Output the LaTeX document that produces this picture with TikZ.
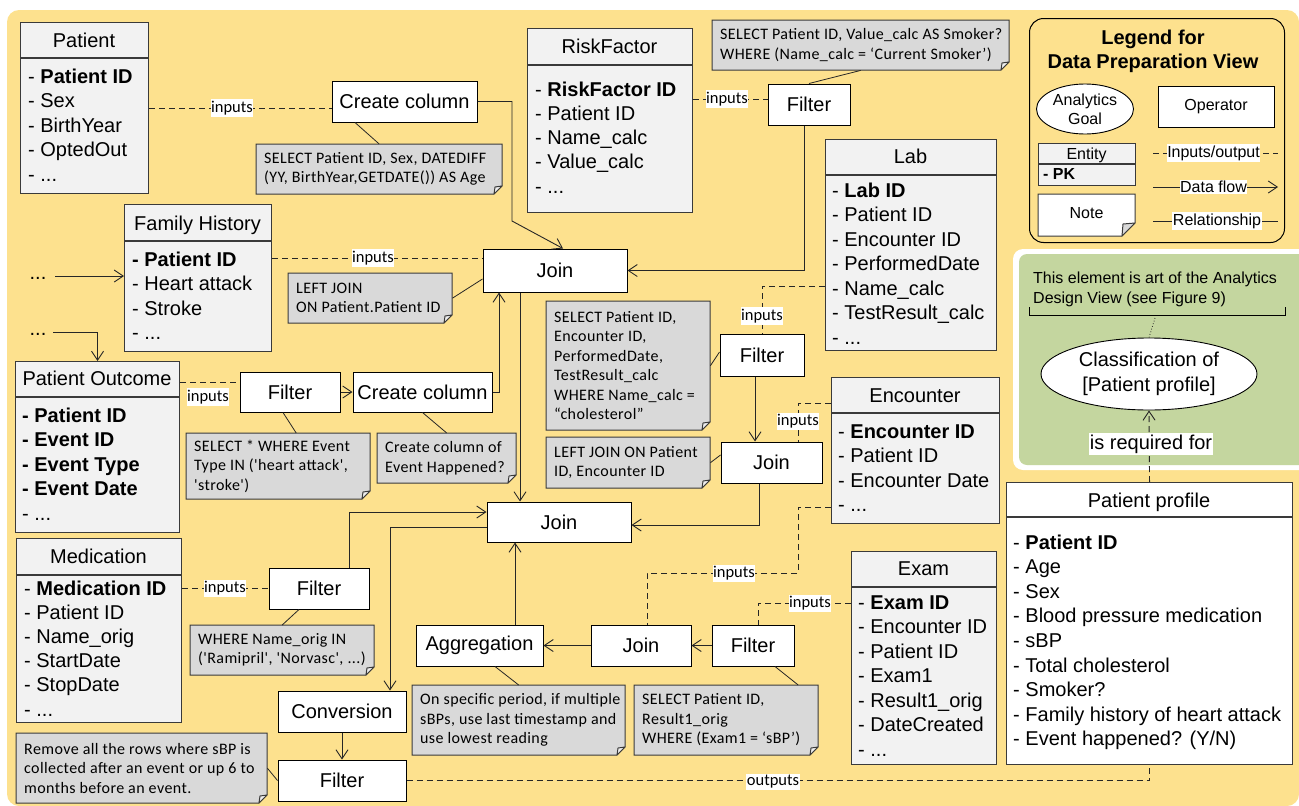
\documentclass[tikz,border=0pt]{standalone}
\usepackage{fontspec}
\setmainfont{Liberation Sans}
\newfontfamily\notefont[LetterSpace=2.5]{Carlito}
\newfontfamily\lblfont{Carlito}
\usetikzlibrary{arrows.meta,shapes.geometric}

\definecolor{ybg}{HTML}{FDE18E}
\definecolor{gbg}{HTML}{C4D69F}
\definecolor{entfill}{HTML}{F2F2F2}
\definecolor{notefill}{HTML}{D9D9D9}
\definecolor{foldfill}{HTML}{EFEFEF}
\definecolor{lnc}{HTML}{262626}
\definecolor{entc}{HTML}{3A3A3A}

\newcommand{\dts}{...}

\tikzset{
  ent/.style={draw=entc, fill=entfill, line width=1.1pt, inner sep=0pt},
  entbd/.style={draw=entc, line width=1.1pt},
  enttitle/.style={font=\fontsize{20}{24}\selectfont, inner sep=0pt},
  entitem/.style={font=\fontsize{20}{24}\selectfont, inner sep=0pt},
  op/.style={draw=black, fill=white, line width=1pt, inner sep=0pt, font=\fontsize{20}{24}\selectfont},
  notebd/.style={draw=entc, line width=1pt},
  notearea/.style={draw=none, fill=none, inner sep=0pt},
  notetext/.style={inner sep=0pt, align=left, font=\notefont\fontsize{16}{19.5}\selectfont},
  lbl/.style={fill=white, inner xsep=0.5pt, inner ysep=1.5pt, font=\lblfont\fontsize{16.5}{18}\selectfont},
  lglbl/.style={fill=white, inner xsep=0.5pt, inner ysep=1.5pt, font=\fontsize{16}{18}\selectfont},
  biglbl/.style={fill=white, inner xsep=1pt, inner ysep=2pt, font=\fontsize{20}{22}\selectfont},
  flow/.style={draw=lnc, line width=0.9pt, -{Straight Barb[length=9pt,width=12pt]}},
  dsh/.style={draw=lnc, line width=0.9pt, dash pattern=on 6pt off 4pt},
  rel/.style={draw=lnc, line width=0.8pt},
}

% entity box: [opts] name x1 y1 x2 y2 ydivider
\newcommand{\entbox}[7][]{%
  \node[ent, #1, minimum width={#5-#3}, minimum height={#6-#4}, anchor=north west] (#2) at (#3,#4) {};
  \draw[entbd] (#3,#7) -- (#5,#7);
}
% entity items: name x y0 dy list
\newcommand{\entitems}[5]{%
  \foreach \itm [count=\i] in {#5} {%
    \node[entitem, anchor=base west] (#1-\i) at (#2,{#3+(\i-1)*#4}) {\itm};
  }%
}
% note: name x1 y1 x2 y2 text
\newcommand{\notebox}[6]{%
  \filldraw[notebd, fill=notefill] (#2,#3) -- (#4,#3) -- (#4,#5-8) -- (#4-8,#5) -- (#2,#5) -- cycle;
  \filldraw[notebd, fill=foldfill, line join=round] (#4,#5-8) -- (#4-8,#5) -- (#4-7,#5-7) -- cycle;
  \node[notearea, minimum width={#4-#2}, minimum height={#5-#3}, anchor=north west] (#1) at (#2,#3) {};
  \node[notetext, anchor=west] (#1-t) at ({#2+8},{(#3+#5)/2}) {#6};
}

\begin{document}
\begin{tikzpicture}[x=1pt,y=-1pt]
\useasboundingbox (0,0) rectangle (1299,806);
% backgrounds
\fill[ybg, rounded corners=12pt] (7,10) rectangle (1299,806);
\fill[white, rounded corners=10pt] (1013,249) rectangle (1320,470);
\fill[gbg, rounded corners=8pt] (1019,254) rectangle (1320,465);

% ---------------- legend
\node[draw=black, line width=1pt, rounded corners=14pt, minimum width=255, minimum height=224, anchor=north west, inner sep=0pt] (legend) at (1029,18) {};
\node[font=\bfseries\fontsize{20}{24}\selectfont, align=center, inner sep=0pt] (lgtitle) at (1153,51) {Legend for\\Data Preparation View};
\node[draw=black, fill=white, line width=0.9pt, ellipse, minimum width=97, minimum height=50, inner sep=0pt, align=center, font=\fontsize{16}{19}\selectfont] (lggoal) at (1085,109) {Analytics\\Goal};
\node[op, minimum width=116, minimum height=41, font=\fontsize{16}{19}\selectfont] (lgop) at (1216,106.5) {Operator};
\entbox{lgent}{1038}{143}{1135}{185}{164}
\node[inner sep=0pt, anchor=base, font=\fontsize{16}{19}\selectfont] (lgent-title) at (1086.5,159.5) {Entity};
\node[inner sep=0pt, anchor=base west, font=\bfseries\fontsize{16}{19}\selectfont] (lgent-1) at (1043,179) {- PK};
\filldraw[notebd, fill=white] (1038,194) -- (1135,194) -- (1135,223) -- (1122,236) -- (1038,236) -- cycle;
\filldraw[notebd, fill=notefill, line join=round] (1135,223) -- (1122,236) -- (1123,224) -- cycle;
\node[inner sep=0pt, font=\fontsize{16}{19}\selectfont] (lgnote) at (1086.5,213) {Note};
\coordinate (lgioa) at (1153,153); \coordinate (lgiob) at (1278,153);
\draw[dsh] (lgioa) -- (lgiob);
\node[lglbl] (lgiol) at (1213.5,153) {Inputs/output};
\coordinate (lgdfa) at (1153,187); \coordinate (lgdfb) at (1278,187);
\draw[flow] (lgdfa) -- (lgdfb);
\node[lglbl] (lgdfl) at (1213.5,187) {Data flow};
\coordinate (lgrla) at (1153,221); \coordinate (lgrlb) at (1278,221);
\draw[rel] (lgrla) -- (lgrlb);
\node[lglbl] (lgrll) at (1217,221) {Relationship};

% ---------------- green region
\node[font=\fontsize{16}{20}\selectfont, anchor=base west, inner sep=0pt] (g1) at (1033,283) {This element is art of the Analytics};
\node[font=\fontsize{16}{20}\selectfont, anchor=base west, inner sep=0pt] (g2) at (1033,303) {Design View (see Figure 9)};
\draw[line width=1pt] (1029,307) -- (1029,315) -- (1285,315) -- (1285,307);
\coordinate (brk) at (1155,318);
\node[draw=black, fill=white, line width=0.9pt, ellipse, minimum width=216, minimum height=72, inner sep=0pt, align=center, font=\fontsize{20}{25}\selectfont] (cls) at (1149,374) {Classification of\\{[}Patient profile{]}};
\draw[lnc, dotted, line width=0.8pt] (brk) -- (cls.north);

% ---------------- entities
\entbox{pat}{20}{22}{148}{193}{58}
\node[enttitle, anchor=base] (pat-title) at (84,47) {Patient};
\entitems{pat}{28}{83}{24.5}{- \textbf{Patient ID}, - Sex, - BirthYear, - OptedOut, - \dts}

\entbox{rf}{527}{28}{692}{212}{65}
\node[enttitle, anchor=base] (rf-title) at (609.5,53) {RiskFactor};
\entitems{rf}{535}{96}{24.3}{- \textbf{RiskFactor ID}, - Patient ID, - Name\_calc, - Value\_calc, - \dts}

\entbox{lab}{825}{139}{996}{350}{175}
\node[enttitle, anchor=base] (lab-title) at (910.5,163) {Lab};
\entitems{lab}{832}{197}{24.5}{- \textbf{Lab ID}, - Patient ID, - Encounter ID, - PerformedDate, - Name\_calc, - TestResult\_calc, - \dts}

\entbox{fh}{124}{204}{271}{351}{241}
\node[enttitle, anchor=base] (fh-title) at (197.5,230) {Family History};
\entitems{fh}{132}{266}{24.5}{\textbf{- Patient ID}, - Heart attack, - Stroke, - \dts}

\entbox{po}{15}{361}{179}{532}{397}
\node[enttitle, anchor=base] (po-title) at (97,385) {Patient Outcome};
\entitems{po}{22}{422}{24.5}{\textbf{- Patient ID}, \textbf{- Event ID}, \textbf{- Event Type}, \textbf{- Event Date}, - \dts}

\entbox{enc}{831}{377}{999}{523}{413}
\node[enttitle, anchor=base] (enc-title) at (915,402) {Encounter};
\entitems{enc}{838}{438}{24.6}{- \textbf{Encounter ID}, - Patient ID, - Encounter Date, - \dts}

\entbox{med}{16}{538}{181}{722}{575}
\node[enttitle, anchor=base] (med-title) at (98.5,563) {Medication};
\entitems{med}{24}{595}{24.2}{- \textbf{Medication ID}, - Patient ID, - Name\_orig, - StartDate, - StopDate, - \dts}

\entbox{exam}{851}{551}{996}{764}{587}
\node[enttitle, anchor=base] (exam-title) at (923.5,575) {Exam};
\entitems{exam}{858}{609}{24.5}{- \textbf{Exam ID}, - Encounter ID, - Patient ID, - Exam1, - Result1\_orig, - DateCreated, - \dts}

\entbox[fill=white]{pp}{1006}{482}{1292}{764}{517}
\node[enttitle, anchor=base] (pp-title) at (1149,507) {Patient profile};
\entitems{pp}{1013}{549}{24.6}{- \textbf{Patient ID}, - Age, - Sex, - Blood pressure medication, - sBP, - Total cholesterol, - Smoker?, - Family history of heart attack, - Event happened? (Y/N)}

% ---------------- operators
\node[op, minimum width=145, minimum height=41] (cc1) at (404.5,101.5) {Create column};
\node[op, minimum width=82, minimum height=41] (frf) at (809,104.5) {Filter};
\node[op, minimum width=144, minimum height=43] (join1) at (555,270.5) {Join};
\node[op, minimum width=100, minimum height=40] (fpo) at (290,392) {Filter};
\node[op, minimum width=139, minimum height=40] (cc2) at (422.5,392) {Create column};
\node[op, minimum width=84, minimum height=42] (flab) at (762,355) {Filter};
\node[op, minimum width=101, minimum height=41] (jenc) at (771.5,462.5) {Join};
\node[op, minimum width=144, minimum height=40] (join2) at (559,522) {Join};
\node[op, minimum width=100, minimum height=41] (fmed) at (319,588.5) {Filter};
\node[op, minimum width=127, minimum height=41] (agg) at (479.5,645.5) {Aggregation};
\node[op, minimum width=100, minimum height=41] (jex) at (641,645.5) {Join};
\node[op, minimum width=82, minimum height=41] (fex) at (753,645.5) {Filter};
\node[op, minimum width=128, minimum height=41] (conv) at (342,711.5) {Conversion};
\node[op, minimum width=128, minimum height=41] (fbot) at (342,780.5) {Filter};

% ---------------- notes
\notebox{n1}{256}{144}{502}{194}{SELECT Patient ID, Sex, DATEDIFF\\(YY, BirthYear,GETDATE()) AS Age}
\notebox{nrf}{712}{20}{1009}{70}{SELECT Patient ID, Value\_calc AS Smoker?\\WHERE (Name\_calc = ‘Current Smoker’)}
\notebox{nlj}{288}{273}{452}{323}{LEFT JOIN\\ON Patient.Patient ID}
\notebox{nsel}{186}{433}{370}{499}{SELECT * WHERE Event\\Type IN ('heart attack',\\'stroke')}
\notebox{ncc2}{377}{433}{516}{483}{Create column of\\Event Happened?}
\notebox{nlab}{546}{301}{710}{430}{SELECT Patient ID,\\Encounter ID,\\PerformedDate,\\TestResult\_calc\\WHERE Name\_calc =\\“cholesterol”}
\notebox{nlje}{546}{437}{710}{488}{LEFT JOIN ON Patient\\ID, Encounter ID}
\notebox{nmed}{190}{625}{374}{675}{WHERE Name\_orig IN\\('Ramipril', 'Norvasc', ...)}
\notebox{nagg}{412}{685}{625}{755}{On specific period, if multiple\\sBPs, use last timestamp and\\use lowest reading}
\notebox{nex}{634}{685}{818}{755}{SELECT Patient ID,\\Result1\_orig\\WHERE (Exam1 = ‘sBP’)}
\notebox{nrem}{16}{733}{267}{803}{Remove all the rows where sBP is\\collected after an event or up 6 to\\months before an event.}

% ---------------- free ends
\node[entitem, anchor=base] (dots1) at (38,279) {\dts};
\node[entitem, anchor=base] (dots2) at (38,335) {\dts};
\coordinate (d1) at (55,276);
\coordinate (d2) at (53,332);

% ---------------- inputs / outputs (dashed)
\draw[dsh] (pat.east |- 0,108) -- (cc1.west |- 0,108);
\draw[dsh] (rf.east |- 0,99) -- (frf.west |- 0,99);
\draw[dsh] (fh.east |- 0,258) -- (join1.west |- 0,258);
\draw[dsh] (po.east |- 0,382) -- (fpo.west |- 0,382);
\draw[dsh] (lab.west |- 0,286) -| (flab.north);
\draw[dsh] (enc.west |- 0,403) -| ([xshift=26.5pt]jenc.north);
\draw[dsh] (med.east |- fmed.west) -- (fmed.west);
\draw[dsh] (enc.west |- 0,507) -| (798,573) -| ([xshift=6pt]jex.north);
\draw[dsh] (exam.west |- 0,603) -| ([xshift=5pt]fex.north);
\draw[dsh] (fbot.east) -| (pp.south);
\draw[dsh, -{Straight Barb[length=9pt,width=12pt]}] (pp.north) -- (cls.south);

\node[lbl] (l1) at (232,108) {inputs};
\node[lbl] (l2) at (727,99) {inputs};
\node[lbl] (l3) at (373,258) {inputs};
\node[lbl] (l4) at (208,397) {inputs};
\node[lbl] (l5) at (762,316) {inputs};
\node[lbl] (l6) at (798,421) {inputs};
\node[lbl] (l7) at (225,588) {inputs};
\node[lbl] (l8) at (734,573) {inputs};
\node[lbl] (l9) at (810,603) {inputs};
\node[lbl] (l10) at (773,782) {outputs};
\node[biglbl] (lreq) at (1151,444) {is required for};

% ---------------- data flow
\draw[flow] (d1) -- (d1 -| fh.west);
\draw[flow] (d2) -| (po.north);
\draw[flow] (cc1.east) -| (512,221) -- ([xshift=8pt]join1.north);
\draw[flow] ([xshift=-5pt]frf.south) |- (join1.east);
\draw[flow] (fpo.east) -- (cc2.west);
\draw[flow] (cc2.east) -| ([xshift=-56pt]join1.south);
\draw[flow] ([xshift=-35pt]join1.south) -- ([xshift=-35pt]join1.south |- join2.north);
\draw[flow] ([xshift=-7pt]flab.south) -- ([xshift=-7pt]flab.south |- jenc.north);
\draw[flow] ([xshift=-12.5pt]jenc.south) |- ([yshift=-3pt]join2.east);
\draw[flow] ([xshift=30pt]fmed.north) |- ([yshift=10pt]join2.west);
\draw[flow] ([yshift=-5pt]join2.west) -| ([xshift=48pt]conv.north);
\draw[flow] (conv.south) -- (fbot.north);
\draw[flow] (fex.west) -- (jex.east);
\draw[flow] (jex.west) -- (agg.east);
\draw[flow] ([xshift=35.5pt]agg.north) -- ([xshift=35.5pt]agg.north |- join2.south);

% ---------------- relationships (note links)
\draw[rel] ([xshift=-49.5pt]cc1.south) -- (n1.north);
\draw[rel] (frf.north) -- (nrf.south);
\draw[rel] (nlj.east) -- ([yshift=-8.5pt]join1.west);
\draw[rel] ([xshift=-7pt]fpo.south) -- ([xshift=18pt]nsel.north);
\draw[rel] (cc2.south) -- (ncc2.north);
\draw[rel] (nlab.east) -- ([yshift=3pt]flab.west);
\draw[rel] (nlje.east) -- ([yshift=7.5pt]jenc.west);
\draw[rel] ([xshift=-20pt]fmed.south) -- (nmed.north);
\draw[rel] ([xshift=15.5pt]agg.south) -- (nagg.north);
\draw[rel] ([xshift=22pt]fex.south) -- ([xshift=72pt]nex.north);
\draw[rel] (nrem.east) -- (fbot.west);
\end{tikzpicture}
\end{document}
